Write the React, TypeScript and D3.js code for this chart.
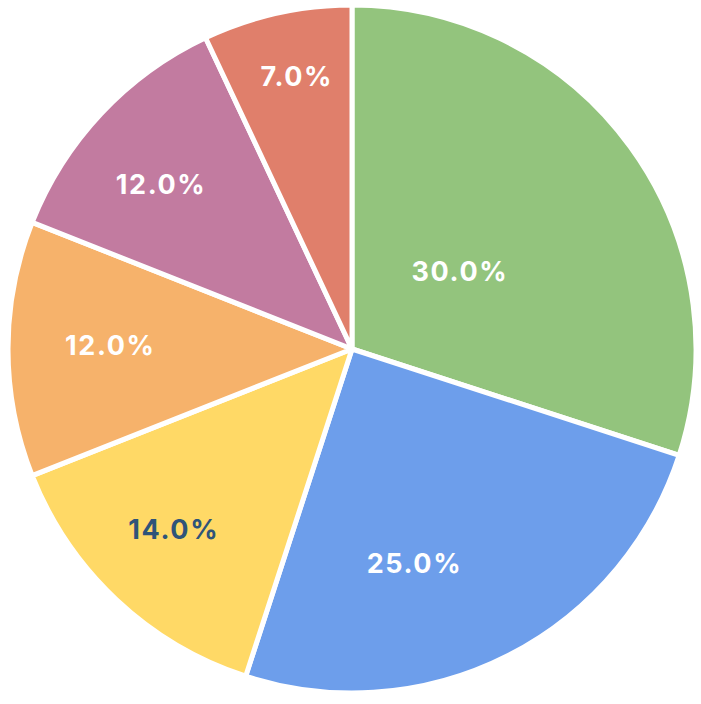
import React from "react";
import * as d3 from "d3";

const labels = ["A", "B", "C", "D", "E", "F"];
const values = [30, 25, 14, 12, 12, 7];
const colors = ["#93c47d", "#6d9eeb", "#ffd966", "#f6b26b", "#c27ba0", "#e07f6b"];
const textColors = ["#ffffff", "#ffffff", "#2f5479", "#ffffff", "#ffffff", "#ffffff"];

// label layout (fraction of radius, angle shift in degrees)
const labelRadiusFrac = [0.385, 0.65, 0.74, 0.705, 0.735, 0.81];
const labelAngleShift = [0, 11, 1.5, 0.9, -2.5, 1];

const W = 701;
const H = 704;
const cx = 352;
const cy = 349;
const R = 344;
const LS = 1.6;

export default function App() {
  const total = d3.sum(values);
  const pie = d3.pie<number>().sort(null).value((d) => d)(values);
  const arc = d3.arc<d3.PieArcDatum<number>>().innerRadius(0).outerRadius(R);
  const fmt = d3.format(".1f");
  return (
    <svg width={W} height={H} style={{ position: "absolute", left: 0, top: 0 }}>
      <g transform={`translate(${cx},${cy})`}>
        {pie.map((p, i) => (
          <path key={labels[i]} d={arc(p) || ""} fill={colors[i]} stroke="#ffffff" strokeWidth={5} strokeLinejoin="round" />
        ))}
        {pie.map((p, i) => {
          const a = (p.startAngle + p.endAngle) / 2 + (labelAngleShift[i] * Math.PI) / 180;
          const r = R * labelRadiusFrac[i];
          const x = Math.sin(a) * r + LS / 2;
          const y = -Math.cos(a) * r;
          return (
            <text
              key={"t" + labels[i]}
              x={x}
              y={y}
              textAnchor="middle"
              dominantBaseline="central"
              fill={textColors[i]}
              fontFamily="Inter, 'Open Sans', sans-serif"
              fontWeight={700}
              fontSize={27}
              letterSpacing={LS}
            >
              {fmt((values[i] / total) * 100)}%
            </text>
          );
        })}
      </g>
    </svg>
  );
}
